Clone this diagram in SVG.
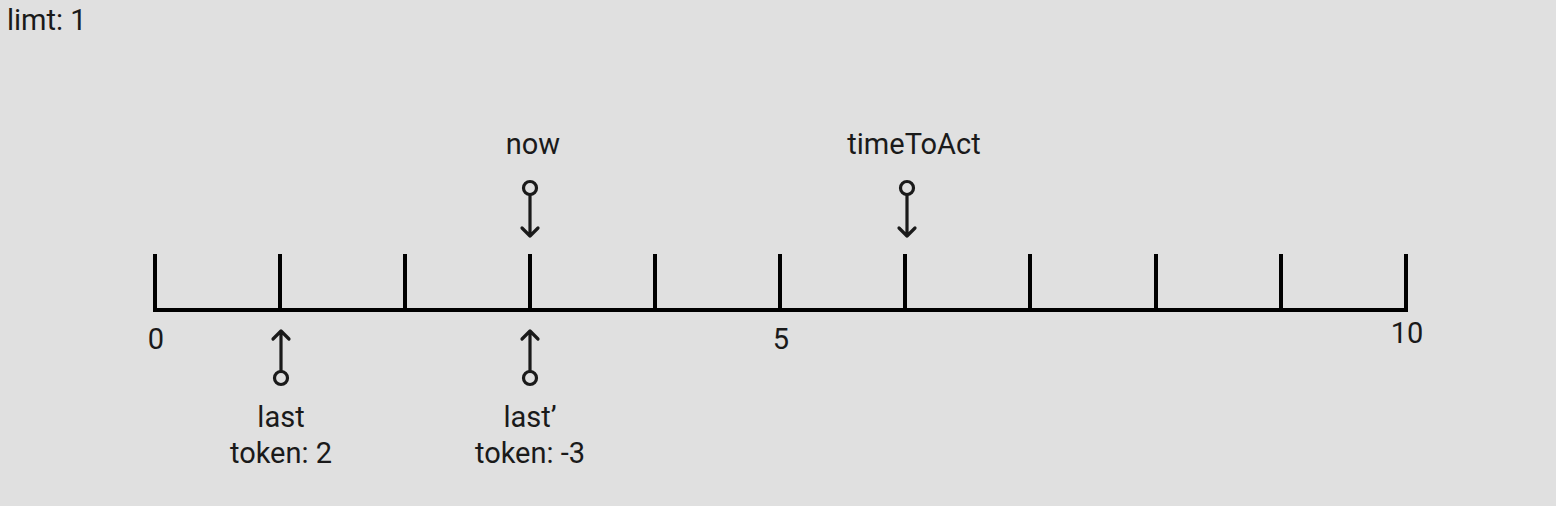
<svg xmlns="http://www.w3.org/2000/svg" width="1556" height="506" viewBox="0 0 1556 506">
<defs>
<style>
text{font-family:Roboto,"Liberation Sans",sans-serif;font-size:29px;fill:#1a1a1a;text-anchor:middle}
.tick{stroke:#000;stroke-width:4;fill:none}
.ptr{stroke:#1a1a1a;stroke-width:3.2;fill:none;stroke-linecap:round;stroke-linejoin:round}
.dot{stroke:#1a1a1a;stroke-width:3.2;fill:#e0e0e0}
</style>
</defs>
<rect width="1556" height="506" fill="#e0e0e0"/>
<text x="7" y="30" style="text-anchor:start">limt: 1</text>
<g id="axis">
<path class="tick" d="M155,254V310H1406V254M280,254V310M405,254V310M530,254V310M655,254V310M780,254V310M905,254V310M1030,254V310M1156,254V310M1281,254V310"/>
<text x="156" y="349">0</text>
<text x="781" y="349">5</text>
<text x="1407" y="343">10</text>
</g>
<g id="connectors">
<path class="ptr" d="M530,195V236M522,228L530,236L538,228"/>
<path class="ptr" d="M907,195V236M899,228L907,236L915,228"/>
<path class="ptr" d="M281,371V331M273,339L281,331L289,339"/>
<path class="ptr" d="M530,371V331M522,339L530,331L538,339"/>
</g>
<g id="now">
<circle class="dot" cx="530" cy="188" r="6.5"/>
<text x="533" y="154">now</text>
</g>
<g id="timeToAct">
<circle class="dot" cx="907" cy="188" r="6.5"/>
<text x="914" y="154">timeToAct</text>
</g>
<g id="last">
<circle class="dot" cx="281" cy="378" r="6.5"/>
<text x="281" y="427">last</text>
<text x="281" y="463">token: 2</text>
</g>
<g id="last2">
<circle class="dot" cx="530" cy="378" r="6.5"/>
<text x="530" y="427">last’</text>
<text x="530" y="463">token: -3</text>
</g>
</svg>
